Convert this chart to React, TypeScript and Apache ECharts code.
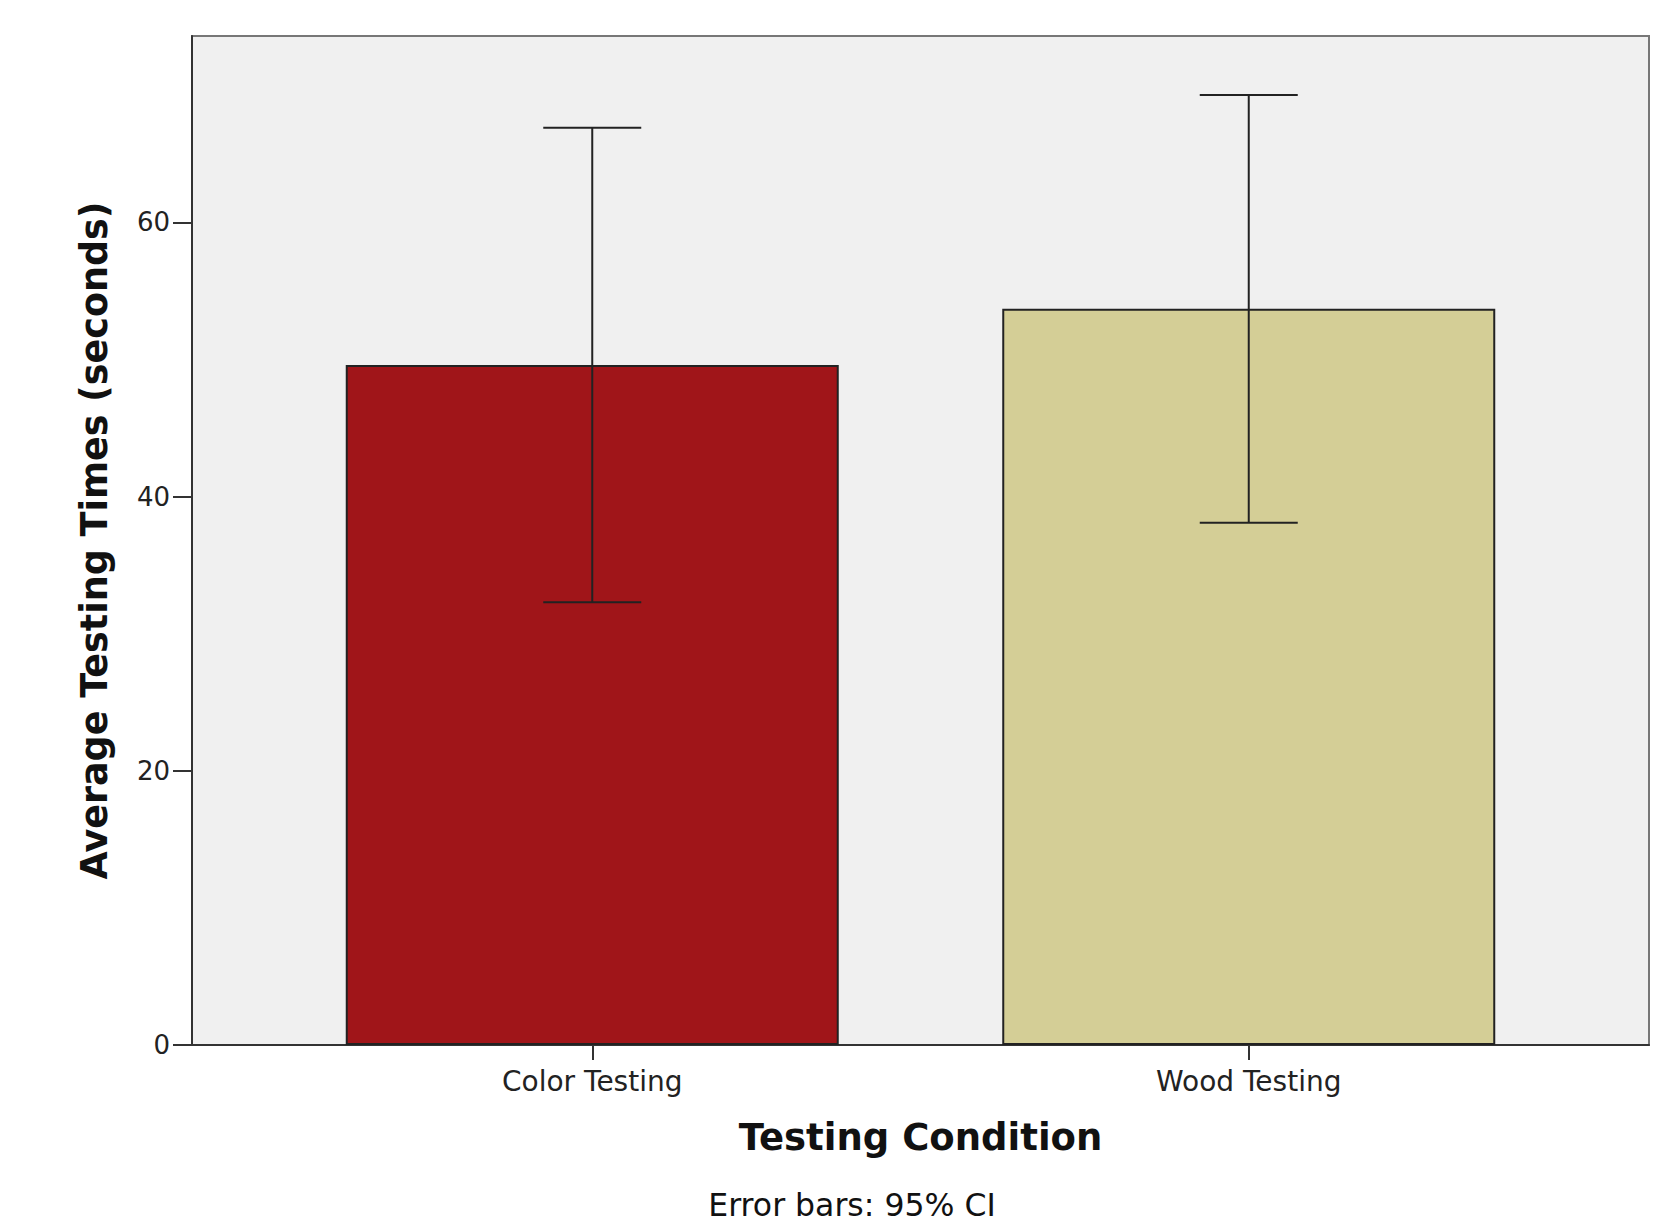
import React, { useEffect, useRef } from "react";
import * as echarts from "echarts";

const categories = ["Color Testing", "Wood Testing"];
const meanValues = [49.6, 53.7];
const ciLow = [32.3, 38.1];
const ciHigh = [66.9, 69.3];
const barColors = ["#A01519", "#D4CE96"];
const yTicks = [0, 20, 40, 60];
const yMax = 73.6;

export default function App() {
  const ref = useRef<HTMLDivElement>(null);
  useEffect(() => {
    document.body.style.margin = "0";
    const chart = echarts.init(ref.current!, null, { renderer: "svg" });
    const font = "DejaVu Sans";
    const option: any = {
      animation: false,
      backgroundColor: "#ffffff",
      grid: [
        { left: 192, top: 36, width: 1457, height: 1009, show: true, backgroundColor: "#F0F0F0", borderColor: "#777777", borderWidth: 2 },
        { left: 264, top: 36, width: 1313, height: 1009 },
      ],
      xAxis: [
        { type: "value", gridIndex: 0, min: 0, max: 1, axisLabel: { show: false }, axisTick: { show: false }, splitLine: { show: false }, axisLine: { show: true, lineStyle: { color: "#333333", width: 2 } } },
        {
          type: "category", gridIndex: 1, data: categories,
          axisLine: { show: false },
          axisTick: { show: true, alignWithLabel: true, length: 15, lineStyle: { color: "#333333", width: 2 } },
          axisLabel: { fontFamily: font, fontSize: 28, color: "#222222", margin: 22 },
          name: "Testing Condition", nameLocation: "middle", nameGap: 74,
          nameTextStyle: { fontFamily: font, fontSize: 37, fontWeight: "bold", color: "#111111" },
        },
      ],
      yAxis: [
        {
          type: "value", gridIndex: 0, min: 0, max: yMax, interval: 20,
          axisLine: { show: true, lineStyle: { color: "#333333", width: 2 } },
          axisTick: { show: true, length: 19, lineStyle: { color: "#333333", width: 2 } },
          axisLabel: { fontFamily: font, fontSize: 26, color: "#222222", margin: 22, showMaxLabel: false,
            formatter: (v: number) => (yTicks.indexOf(v) >= 0 ? String(v) : "") },
          splitLine: { show: false },
          name: "Average Testing Times (seconds)", nameLocation: "middle", nameGap: 79,
          nameTextStyle: { fontFamily: font, fontSize: 36.5, fontWeight: "bold", color: "#111111" },
        },
        { type: "value", gridIndex: 1, min: 0, max: yMax, show: false },
      ],
      series: [
        {
          type: "bar", xAxisIndex: 1, yAxisIndex: 1, barWidth: 493,
          data: meanValues.map((v, i) => ({ value: v, itemStyle: { color: barColors[i], borderColor: "#222222", borderWidth: 2 } })),
          z: 2,
        },
        {
          type: "custom", xAxisIndex: 1, yAxisIndex: 1, z: 5,
          data: categories.map((_, i) => [i, ciLow[i], ciHigh[i]]),
          renderItem: (params: any, api: any) => {
            const x = api.value(0);
            const top = api.coord([x, api.value(2)]);
            const bot = api.coord([x, api.value(1)]);
            const hw = 49;
            const style = { stroke: "#222222", lineWidth: 2 };
            return {
              type: "group",
              children: [
                { type: "line", shape: { x1: top[0], y1: top[1], x2: bot[0], y2: bot[1] }, style },
                { type: "line", shape: { x1: top[0] - hw, y1: top[1], x2: top[0] + hw, y2: top[1] }, style },
                { type: "line", shape: { x1: bot[0] - hw, y1: bot[1], x2: bot[0] + hw, y2: bot[1] }, style },
              ],
            };
          },
        },
      ],
      graphic: [
        { type: "text", x: 852, y: 1189, style: { text: "Error bars: 95% CI", fontFamily: font, fontSize: 31.5, fill: "#111111", textAlign: "center", textVerticalAlign: "top" } },
      ],
    };
    chart.setOption(option);
    return () => chart.dispose();
  }, []);
  return <div ref={ref} style={{ width: 1665, height: 1225 }} />;
}
